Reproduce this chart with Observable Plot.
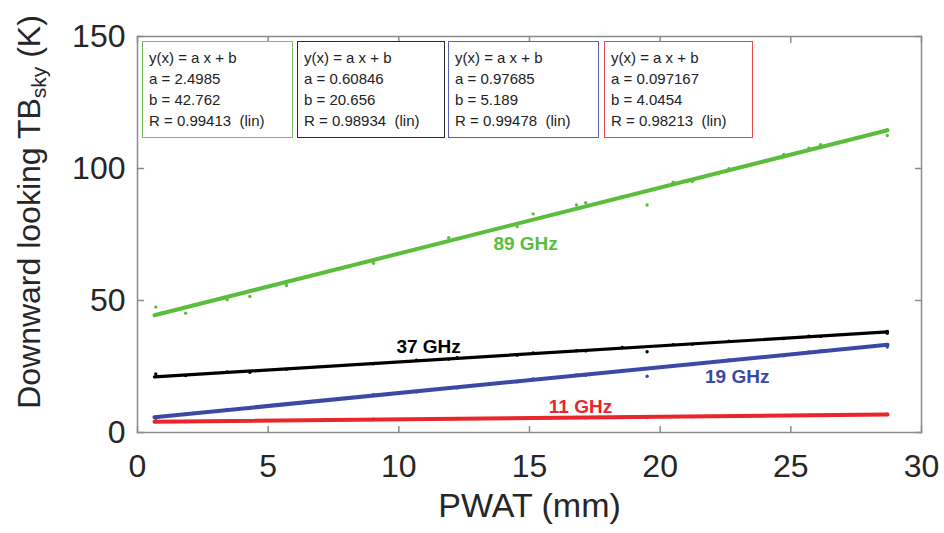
<!DOCTYPE html>
<html>
<head>
<meta charset="utf-8">
<script src="https://cdn.jsdelivr.net/npm/d3@7"></script>
<script src="https://cdn.jsdelivr.net/npm/@observablehq/plot@0.6"></script>
<style>
  html, body { margin: 0; padding: 0; background: #fff; }
  #wrap { position: relative; width: 944px; height: 533px; font-family: "Liberation Sans", Arial, sans-serif; }
  .box { position: absolute; box-sizing: border-box; background: #fff; padding: 5px 0 0 6px; font-size: 15px; line-height: 21px; color: #222; white-space: pre; }
</style>
</head>
<body>
<div id="wrap"></div>
<script>
// ---- data ----
const xTicks = [0, 5, 10, 15, 20, 25, 30];
const yTicks = [0, 50, 100, 150];

const pwat  = [0.7, 1.84, 3.43, 4.3, 5.7, 9.03, 10.68, 11.91, 12.23, 14.53, 15.14, 16.8, 17.15, 18.55, 19.5, 20.5, 21.23, 22.63, 24.73, 25.69, 26.14, 28.69, 28.69];
const tb89  = [47.5, 45.2, 50.3, 51.5, 55.7, 64.1, 69.6, 73.8, 73.5, 78.0, 82.8, 86.2, 87.0, 89.4, 86.2, 94.8, 95.1, 99.9, 105.3, 107.7, 109.0, 114.7, 112.5];
const tb37  = [22.2, 21.6, 22.9, 22.8, 24.0, 26.0, 27.4, 27.8, 28.3, 29.3, 30.1, 31.0, 30.9, 32.2, 30.6, 33.3, 33.4, 34.6, 35.6, 36.5, 36.4, 37.6, 38.3];
const tb19  = [5.4, 6.8, 8.7, 9.2, 10.9, 14.3, 15.4, 17.0, 16.9, 19.2, 20.3, 21.8, 21.7, 23.5, 21.3, 25.4, 25.7, 27.5, 29.1, 30.5, 30.9, 33.0, 32.4];
const tb11  = [4.3, 4.1, 4.4, 4.5, 4.5, 5.0, 5.0, 5.2, 5.3, 5.4, 5.6, 5.7, 5.6, 5.8, 5.7, 6.1, 6.0, 6.2, 6.4, 6.6, 6.5, 6.8, 6.9];

const fitX   = [0.65, 28.7];
const fit89  = [44.4, 114.5];
const fit37  = [21.05, 38.1];
const fit19  = [5.8, 33.2];
const fit11  = [4.1, 6.8];

const seriesNames  = ["89 GHz", "37 GHz", "19 GHz", "11 GHz"];
const seriesColors = ["#5bbd3c", "#000000", "#3a48a6", "#e8262b"];
const boxColors    = ["#74c35a", "#2a2a2a", "#5a60b6", "#e64a4a"];
const labelX = [14.85, 11.14, 22.95, 16.95];
const labelY = [71.6, 32.3, 20.9, 9.6];

const fitA = ["2.4985", "0.60846", "0.97685", "0.097167"];
const fitB = ["42.762", "20.656", "5.189", "4.0454"];
const fitR = ["0.99413", "0.98934", "0.99478", "0.98213"];

// ---- build tables ----
const obs = [tb89, tb37, tb19, tb11];
const fits = [fit89, fit37, fit19, fit11];
const points = [];
obs.forEach((arr, s) => arr.forEach((v, i) => points.push({x: pwat[i], y: v, s})));
const lines = [];
fits.forEach((arr, s) => arr.forEach((v, i) => lines.push({x: fitX[i], y: v, s})));
const labels = seriesNames.map((n, s) => ({name: n, x: labelX[s], y: labelY[s], s}));

const tickColor = "#262626";
const frameColor = "#8c8c8c";
const xMin = 0, xMax = 30, yMin = 0, yMax = 150;

// inward tick shape for vectors
const tickShape = {draw(ctx, l) { ctx.moveTo(0, 0); ctx.lineTo(0, -l); }};
const tickOpts = {length: 6, anchor: "start", shape: tickShape, stroke: frameColor, strokeWidth: 1.5};

const chart = Plot.plot({
  width: 944,
  height: 533,
  marginLeft: 137,
  marginRight: 23,
  marginTop: 36,
  marginBottom: 101,
  x: {domain: [xMin, xMax]},
  y: {domain: [yMin, yMax]},
  style: {fontFamily: "'Liberation Sans', Arial, sans-serif", background: "#fff", color: tickColor},
  marks: [
    Plot.axisX({ticks: xTicks, tickSize: 0, tickPadding: 22, fontSize: 32, label: null, fill: tickColor}),
    Plot.axisY({ticks: yTicks, tickSize: 0, tickPadding: 12, fontSize: 32, label: null, fill: tickColor}),
    Plot.vector(xTicks, {...tickOpts, x: d => d, y: () => yMin, rotate: 0}),
    Plot.vector(xTicks, {...tickOpts, x: d => d, y: () => yMax, rotate: 180}),
    Plot.vector(yTicks, {...tickOpts, x: () => xMin, y: d => d, rotate: 90}),
    Plot.vector(yTicks, {...tickOpts, x: () => xMax, y: d => d, rotate: -90}),
    Plot.frame({stroke: frameColor, strokeWidth: 1.5}),
    Plot.line(lines, {x: "x", y: "y", z: "s", stroke: d => seriesColors[d.s], strokeWidth: d => d.s === 1 ? 3.2 : 4}),
    Plot.dot(points, {x: "x", y: "y", r: 1.7, fill: d => seriesColors[d.s], stroke: null}),
    Plot.text(labels, {x: "x", y: "y", text: "name", fill: d => seriesColors[d.s], fontSize: 19, fontWeight: "bold"}),
    Plot.text(["PWAT (mm)"], {frameAnchor: "bottom", dy: 84, fontSize: 34, fill: tickColor})
  ]
});

const wrap = document.getElementById("wrap");
wrap.appendChild(chart);

// y-axis label with subscript
const svg = d3.select(chart);
const yl = svg.append("text")
  .attr("transform", "translate(29,212) rotate(-90)")
  .attr("text-anchor", "middle")
  .attr("dominant-baseline", "central")
  .attr("font-size", 32)
  .attr("fill", tickColor)
  .attr("font-family", "'Liberation Sans', Arial, sans-serif");
yl.append("tspan").text("Downward looking TB");
yl.append("tspan").attr("font-size", 21).attr("dy", 9).text("sky");
yl.append("tspan").attr("dy", -9).text(" (K)");

// fit legend boxes
const boxLeft = [142, 297, 448, 604];
const boxWidth = [151, 148, 151, 149];
seriesNames.forEach((n, s) => {
  const d = document.createElement("div");
  d.className = "box";
  d.style.left = boxLeft[s] + "px";
  d.style.top = "41px";
  d.style.width = boxWidth[s] + "px";
  d.style.height = "97px";
  d.style.border = "1.6px solid " + boxColors[s];
  d.textContent = "y(x) = a x + b\na = " + fitA[s] + "\nb = " + fitB[s] + "\nR = " + fitR[s] + "  (lin)";
  wrap.appendChild(d);
});
</script>
</body>
</html>
